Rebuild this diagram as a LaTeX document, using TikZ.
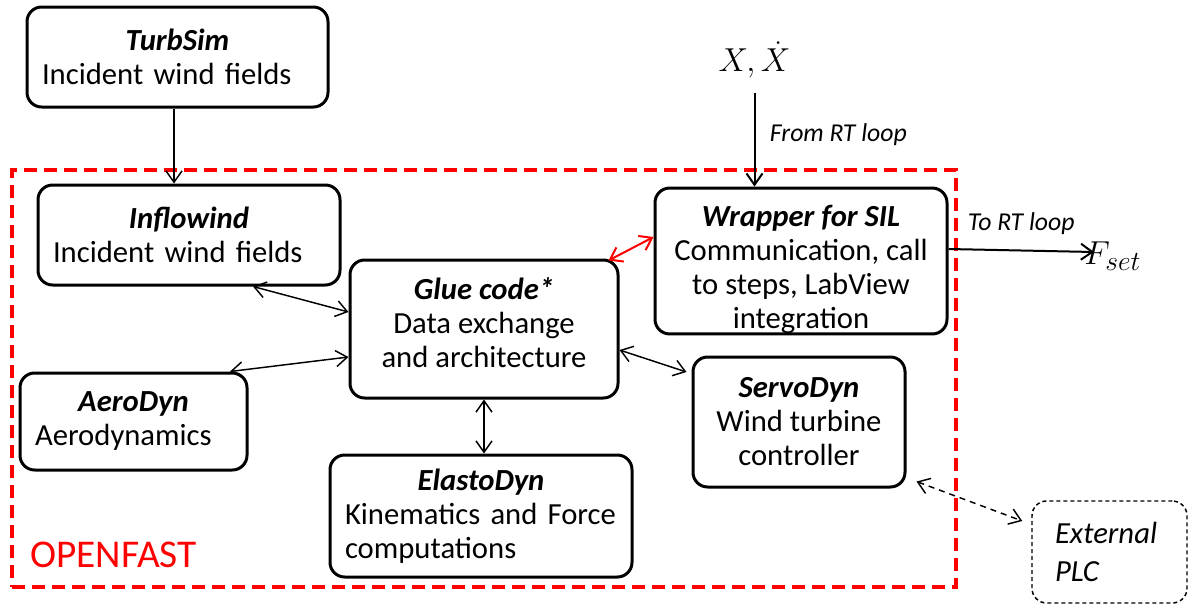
\documentclass[tikz,border=0pt]{standalone}
\usepackage{fontspec}
\setmainfont{Carlito}
\usetikzlibrary{positioning, arrows.meta}

\newdimen\px \px=0.75pt
\newcommand{\modtitle}[1]{\makebox[\linewidth]{\bfseries\itshape #1}}

\begin{document}
\begin{tikzpicture}[x=0.75pt, y=-0.75pt,
    every node/.style={font=\fontsize{23}{25.5}\selectfont},
    module/.style={draw, rounded corners=11pt, line width=2.25pt, inner ysep=0pt, inner xsep=15\px},
    leftmod/.style={module, align=left},
    centmod/.style={module, align=center},
    link/.style={<->, line width=1.1pt},
    >={Straight Barb[length=8.5pt, width=12pt]}]
    \useasboundingbox (0,0) rectangle (1189,604);

    % OpenFAST frame
    \node (openfast) [draw=red, line width=3pt, dash pattern=on 13\px off 7\px, inner sep=0pt, minimum width=944\px, minimum height=417\px] at (484,378.5) {};
    \node (oflabel) [text=red, inner sep=0pt, anchor=west, font=\fontsize{29.5}{32}\selectfont] at (30,555) {OPENFAST};

    % modules
    \node (turbsim) [leftmod, text width=271\px, minimum height=100\px] at (177.5,57) {\modtitle{TurbSim}\\Incident wind fields};
    \node (inflow) [leftmod, text width=272\px, minimum height=100\px] at (189,235) {\modtitle{Inflowind}\\Incident wind fields};
    \node (aerodyn) [leftmod, text width=197\px, minimum height=97\px] at (133.5,421.5) {\modtitle{AeroDyn}\\Aerodynamics};
    \node (elasto) [leftmod, text width=272\px, minimum height=122\px] at (481,516) {\modtitle{ElastoDyn}\\Kinematics and Force\\computations};
    \node (glue) [centmod, minimum width=268\px, minimum height=138\px] at (484,329) {\textbf{\textit{Glue code*}}\\Data exchange\\and architecture\rule[-9pt]{0pt}{0pt}};
    \node (wrapper) [centmod, minimum width=292\px, minimum height=144\px] at (801,261) {\rule{0pt}{29pt}\textbf{\textit{Wrapper for SIL}}\\Communication, call\\to steps, LabView\\integration};
    \node (servo) [centmod, minimum width=212\px, minimum height=130\px] at (799,422) {\textbf{\textit{ServoDyn}}\\Wind turbine\\controller};
    \node (external) [leftmod, line width=1.1pt, dash pattern=on 4\px off 3\px, inner xsep=23\px, text width=109\px, minimum height=102\px, font=\fontsize{23}{28}\selectfont\itshape] at (1109.5,552) {External\\PLC};

    % RT loop signals
    \node (xstate) [inner sep=0pt, font=\fontsize{31}{36}\selectfont] at (754.5,60) {$X,\dot{X}$};
    \node (fset) [inner sep=0pt, anchor=west, font=\fontsize{32}{36}\selectfont] at (1084,256) {$F_{set}$};

    % links
    \draw[->, line width=1.1pt] (turbsim.south) ++(-3.5,0) coordinate (ts) -- (ts |- inflow.north);
    \draw[link] ([xshift=64\px]inflow.south) -- ([yshift=17\px]glue.west);
    \draw[link] ([xshift=96.5\px]aerodyn.north) -- ([yshift=-28\px]glue.west);
    \draw[link] (glue.south) -- (glue.south |- elasto.north);
    \draw[link] ([yshift=-21\px]glue.east) -- ([xshift=-5\px, yshift=50\px]servo.west);
    \draw[link, red, line width=1.5pt] ([xshift=-11\px, yshift=-2\px]glue.north east) -- ([yshift=24\px]wrapper.west);
    \draw[link, dash pattern=on 6\px off 5\px] ([xshift=10\px, yshift=7\px]servo.south east) -- ([xshift=-9\px, yshift=31\px]external.west);
    \draw[->, line width=1.5pt] ([yshift=-14\px]xstate.south) -- node[right, pos=0.45, xshift=10\px, font=\fontsize{19.3}{22}\selectfont\itshape] {From RT loop} (xstate.south |- wrapper.north);
    \draw[->, line width=1.5pt] ([yshift=12\px]wrapper.east) -- node[above, yshift=10\px, font=\fontsize{19.3}{22}\selectfont\itshape] {To RT loop} ([xshift=10\px, yshift=4\px]fset.west);
\end{tikzpicture}
\end{document}
